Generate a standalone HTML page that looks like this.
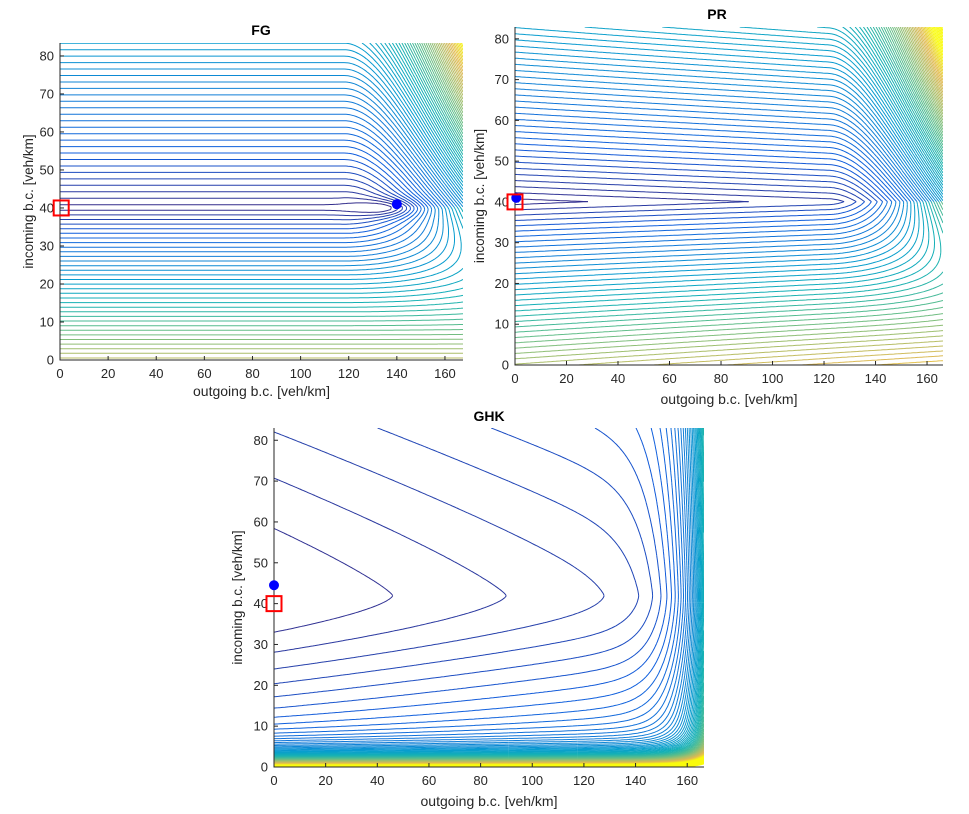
<!DOCTYPE html>
<html><head><meta charset="utf-8">
<style>
html,body{margin:0;padding:0;background:#fff;}
svg{display:block;font-family:"Liberation Sans",Arial,sans-serif;}
</style></head>
<body>
<svg id="fig" width="969" height="814" viewBox="0 0 969 814" xmlns="http://www.w3.org/2000/svg"></svg>
<script>
// ---- data ----
const xTicks = [0,20,40,60,80,100,120,140,160];
const yTicks = [0,10,20,30,40,50,60,70,80];
const fgLevelRange = [0.85, 1.7, 150];
const prLevelRange = [0.75, 1.5, 150];
const ghkLevelRange = [46, 44, 3600];
const fgDot = [140, 41];
const prDot = [0.5, 41];
const ghkDot = [0, 44.5];
const fgSquare = [0.5, 40];
const prSquare = [0, 40];
const ghkSquare = [0, 40];

// ---- fields ----
function fgField(x,y){
  const d=y-40;
  const base = d>=0 ? d : -1.4*d;
  const m = d>=0 ? 1+d/40 : Math.pow(Math.max(0,y/40),3);
  const r = Math.max(0,x-118);
  return base + 0.014*r*r*m - 5*Math.exp(-((x-138)*(x-138)/150 + d*d/6));
}
function prField(x,y){
  const d=y-40;
  const base = (d>=0 ? d : -1.15*d)*(1+0.1*x/166) + 0.024*x;
  const m = d>=0 ? 1+d/40 : Math.pow(Math.max(0,y/40),3);
  const r = Math.max(0,x-122);
  return base + 0.018*r*r*m;
}
function ghkField(x,y){
  const d=y-42;
  const g = d>=0 ? 1.6*Math.pow(d,1.2) : 1.56*Math.pow(-d,1.54);
  return x + g + 1000*Math.exp((x-166)/7.5) + 2500*Math.exp(-y/2.5);
}

// parula approx
const PAR=[[53,42,135],[15,92,221],[18,125,216],[7,156,207],[21,177,180],[89,189,140],[165,190,107],[225,185,82],[249,251,14]];
function parula(t){
  t=Math.max(0,Math.min(1,t));
  const p=t*(PAR.length-1), i=Math.min(PAR.length-2,Math.floor(p)), f=p-i;
  const c=PAR[i].map((v,k)=>Math.round(v+(PAR[i+1][k]-v)*f));
  return `rgb(${c[0]},${c[1]},${c[2]})`;
}

const NS="http://www.w3.org/2000/svg";
const svg=document.getElementById('fig');
function mk(tag,attrs,parent){
  const e=document.createElementNS(NS,tag);
  for(const k in attrs) e.setAttribute(k,attrs[k]);
  (parent||svg).appendChild(e); return e;
}

function rangeLevels(r){const a=[];for(let v=r[0];v<=r[2];v+=r[1])a.push(v);return a;}

function drawPlot(cfg){
  const {name,left,right,top,bottom,xmax,ymax,field,levels,colorUp,colorLow,title,titleX,titleY,xlabY,ylabX,dot,square,nx,ny}=cfg;
  const kx=(right-left)/xmax, ky=(bottom-top)/ymax;
  const sx=x=>left+x*kx, sy=y=>bottom-y*ky;
  const g=mk('g',{});
  
  
  const clipId='clip-'+name;
  const cp=mk('clipPath',{id:clipId},g);
  mk('rect',{x:left,y:top,width:right-left,height:bottom-top},cp);
  const grid=[];
  for(let j=0;j<=ny;j++){const row=[];const y=ymax*j/ny;for(let i=0;i<=nx;i++){row.push(field(xmax*i/nx,y));}grid.push(row);}
  const cg=mk('g',{'clip-path':`url(#${clipId})`,fill:'none','stroke-width':1},g);
  
  
  const dx=xmax/nx, dy=ymax/ny;
  for(const L of levels){
    let up='',low='';
    for(let j=0;j<ny;j++){for(let i=0;i<nx;i++){
      const v00=grid[j][i],v10=grid[j][i+1],v11=grid[j+1][i+1],v01=grid[j+1][i];
      const x0=i*dx,y0=j*dy,x1=x0+dx,y1=y0+dy;
      const pts=[];
      if((v00<L)!==(v10<L)){const t=(L-v00)/(v10-v00);pts.push([x0+t*dx,y0]);}
      if((v10<L)!==(v11<L)){const t=(L-v10)/(v11-v10);pts.push([x1,y0+t*dy]);}
      if((v01<L)!==(v11<L)){const t=(L-v01)/(v11-v01);pts.push([x0+t*dx,y1]);}
      if((v00<L)!==(v01<L)){const t=(L-v00)/(v01-v00);pts.push([x0,y0+t*dy]);}
      if(pts.length<2) continue;
      let segs=[[pts[0],pts[1]]];
      if(pts.length===4) segs=[[pts[0],pts[1]],[pts[2],pts[3]]];
      for(const s of segs){
        const str=`M${sx(s[0][0]).toFixed(1)} ${sy(s[0][1]).toFixed(1)}L${sx(s[1][0]).toFixed(1)} ${sy(s[1][1]).toFixed(1)}`;
        if(y0>=40) up+=str; else low+=str;
      }
    }}
    if(up){const p=mk('path',{d:up,stroke:parula(colorUp(L))},cg);
      
      }
    if(low){const p=mk('path',{d:low,stroke:parula(colorLow(L))},cg);
      
      }
  }
  const ax=mk('path',{d:`M${left} ${top}V${bottom}H${right}`,stroke:'#262626','stroke-width':1,fill:'none'},g);
  
  
  for(const t of xTicks){
    const X=sx(t);
    mk('line',{x1:X,y1:bottom,x2:X,y2:bottom-4,stroke:'#262626'},g);
    const tx=mk('text',{x:X,y:bottom+18,'text-anchor':'middle','font-size':13,fill:'#262626'},g);
    tx.textContent=t;
    
    
  }
  for(const t of yTicks){
    const Y=sy(t);
    mk('line',{x1:left,y1:Y,x2:left+4,y2:Y,stroke:'#262626'},g);
    const tx=mk('text',{x:left-6,y:Y+4.5,'text-anchor':'end','font-size':13,fill:'#262626'},g);
    tx.textContent=t;
    
    
  }
  const xl=mk('text',{x:(left+right)/2,y:xlabY,'text-anchor':'middle','font-size':14,fill:'#262626'},g);
  xl.textContent='outgoing b.c. [veh/km]';
  
  
  const cy=(top+bottom)/2;
  const yl=mk('text',{x:ylabX,y:cy,'text-anchor':'middle','font-size':13.5,fill:'#262626',transform:`rotate(-90 ${ylabX} ${cy})`},g);
  yl.textContent='incoming b.c. [veh/km]';
  
  
  const tt=mk('text',{x:titleX,y:titleY,'text-anchor':'middle','font-size':14,'font-weight':'bold',fill:'#000'},g);
  tt.textContent=title;
  
  
  const dt=mk('circle',{cx:sx(dot[0]),cy:sy(dot[1]),r:5,fill:'#0000ff'},g);
  
  
  const sq=mk('rect',{x:sx(square[0])-7.5,y:sy(square[1])-7.5,width:15,height:15,fill:'none',stroke:'#ff0000','stroke-width':2},g);
  
  
}

drawPlot({name:'fg',left:60,right:463,top:43,bottom:360,xmax:167.5,ymax:83.4,field:fgField,
  levels:rangeLevels(fgLevelRange),colorUp:L=>L/115,colorLow:L=>L/70,
  title:'FG',titleX:261,titleY:35,xlabY:396,ylabX:33,dot:fgDot,square:fgSquare,nx:200,ny:120});
drawPlot({name:'pr',left:515,right:943,top:27,bottom:365,xmax:166.2,ymax:82.9,field:prField,
  levels:rangeLevels(prLevelRange),colorUp:L=>L/110,colorLow:L=>L/60,
  title:'PR',titleX:717,titleY:19,xlabY:404,ylabX:484,dot:prDot,square:prSquare,nx:200,ny:120});
drawPlot({name:'ghk',left:274,right:704,top:428,bottom:767,xmax:166.5,ymax:83,field:ghkField,
  levels:rangeLevels(ghkLevelRange),colorUp:L=>L/2600,colorLow:L=>L/2600,
  title:'GHK',titleX:489,titleY:421,xlabY:806,ylabX:242,dot:ghkDot,square:ghkSquare,nx:200,ny:200});
</script>
</body></html>
